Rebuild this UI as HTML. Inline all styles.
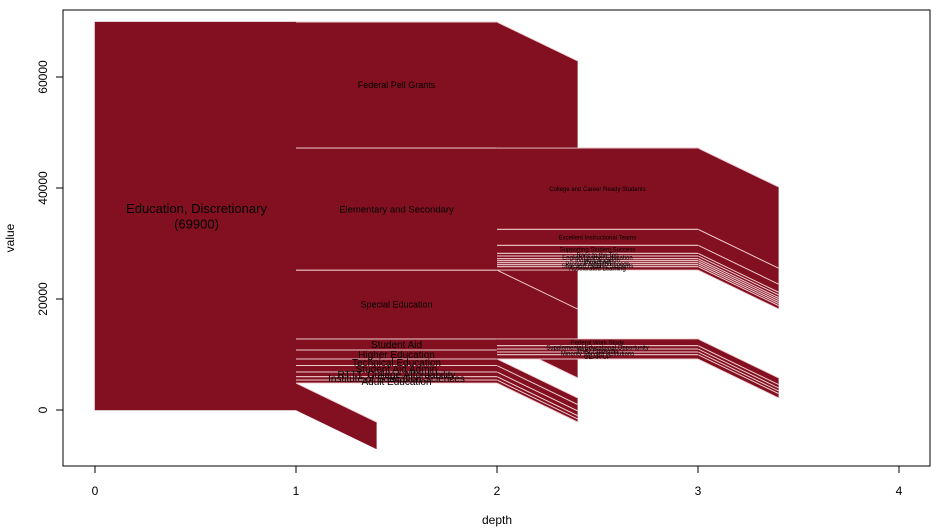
<!DOCTYPE html>
<html><head><meta charset="utf-8"><style>
html,body{margin:0;padding:0;background:#fff;}
svg{display:block;font-family:"Liberation Sans",Arial,sans-serif;}
</style></head><body>
<svg id="chart" width="937" height="531" viewBox="0 0 937 531" xmlns="http://www.w3.org/2000/svg">
<g id="marks"></g>
<g id="labels"></g>
<rect x="63" y="10" width="867" height="456" fill="none" stroke="#000" stroke-width="1"/>
<g id="axes"></g>
<text x="497" y="524" font-size="12" text-anchor="middle">depth</text>
<text x="14" y="238" font-size="12" text-anchor="middle" transform="rotate(-90 14 238)">value</text>
</svg>
<script>
const nodeNames = ["Education, Discretionary\n(69900)","Federal Pell Grants","Elementary and Secondary","Special Education","Student Aid","Higher Education","Technical Education","Student Aid Admin","RTTT: College Affordability","Institute of Education Sciences","Adult Education","College and Career Ready Students","Excellent Instructional Teams","Supporting Student Success","Race to the Top","English Learner Education","Indian Education","Impact Aid","Promise Neighborhoods","Safe and Healthy Students","Accelerated Learning","Federal Work Study","Supplemental Educational Opportunity","TRIO Programs","Minority Serving Institutions","GEAR UP"];
const nodeDepth = [0,1,1,1,1,1,1,1,1,1,1,2,2,2,2,2,2,2,2,2,2,2,2,2,2,2];
const nodeTop =    [69900,69900,47200,25200,12800,10800,9200,8000,6850,6000,5400,47200,32560,29680,28230,27750,27260,26900,26540,26180,25820,12800,11590,10990,10450,9960];
const nodeBottom = [0,47200,25200,12800,10800,9200,8000,6850,6000,5400,4850,32560,29680,28230,27750,27260,26900,26540,26180,25820,25220,11590,10990,10450,9960,9190];
const remLow =  [0,47200,25200,12800,10800,9200,8000,6850,6000,5400,4850,32560,29680,28230,27750,27260,26900,26540,26180,25820,25220,11590,10990,10450,9960,9190];
const remHigh = [4850,69900,47200,25200,10800,9200,9200,8000,6850,6000,5400,47200,32560,29680,28230,27750,27260,26900,26540,26180,25820,12800,11590,10990,10450,9960];
const slopeDrop = 7000;
const xTicks = [0,1,2,3,4];
const yTicks = [0,20000,40000,60000];

const NS="http://www.w3.org/2000/svg";
const X = d => 95 + 201*d;
const Y = v => 410 - v*0.00555;
const marks=document.getElementById('marks'), labels=document.getElementById('labels'), axes=document.getElementById('axes');
const FILL="#821020", STROKE="#f0d0d4";
function el(tag,attrs,parent){const e=document.createElementNS(NS,tag);for(const k in attrs)e.setAttribute(k,attrs[k]);parent.appendChild(e);return e;}

for(let depth=0;depth<=2;depth++){
  nodeNames.forEach((n,i)=>{
    if(nodeDepth[i]!==depth)return;
    if(remHigh[i]>remLow[i]){
      const x1=X(depth+1), x2=X(depth+1.4);
      const w=el('polygon',{points:`${x1},${Y(remHigh[i])} ${x2},${Y(remHigh[i]-slopeDrop)} ${x2},${Y(remLow[i]-slopeDrop)} ${x1},${Y(remLow[i])}`,fill:FILL,stroke:FILL,'stroke-width':0.5},marks);
      
      
      [remHigh[i],remLow[i]].forEach(v=>{
        if(depth===0 && v===0) return;
        const l=el('line',{x1:x1,y1:Y(v),x2:x2,y2:Y(v-slopeDrop),stroke:STROKE,'stroke-width':0.9},marks);
        
        
      });
    }
  });
  nodeNames.forEach((n,i)=>{
    if(nodeDepth[i]!==depth)return;
    const r=el('rect',{x:X(depth),y:Y(nodeTop[i]),width:X(depth+1)-X(depth),height:Y(nodeBottom[i])-Y(nodeTop[i]),fill:FILL,stroke:FILL,'stroke-width':0.5},marks);
    
    
  });
  nodeNames.forEach((n,i)=>{
    if(nodeDepth[i]!==depth||depth===0)return;
    [nodeTop[i],nodeBottom[i]].forEach(v=>{
      const l=el('line',{x1:X(depth),x2:X(depth+1),y1:Y(v),y2:Y(v),stroke:STROKE,'stroke-width':0.9},marks);
      
      
    });
  });
}
const fs=[13,9.5,6];
nodeNames.forEach((n,i)=>{
  const d=nodeDepth[i];
  let size=fs[d];
  if(d===1 && i>=4) size=10;
  if(i===1||i===3) size=9;
  const cx=X(d+0.5), cy=(Y(nodeTop[i])+Y(nodeBottom[i]))/2;
  const lines=n.split('\n');
  lines.forEach((ln,k)=>{
    const t=el('text',{x:d===0?cx+1:cx,y:cy+size*0.35+(k-(lines.length-1)/2)*size*1.2,'font-size':size,'text-anchor':'middle',fill:'#000'},labels);
    
    
    t.textContent=ln;
  });
});
xTicks.forEach(v=>{
  const l=el('line',{x1:X(v),x2:X(v),y1:466,y2:473,stroke:'#000'},axes);
  
  
  const t=el('text',{x:X(v),y:495,'font-size':12,'text-anchor':'middle'},axes);
  
  
  t.textContent=v;
});
yTicks.forEach(v=>{
  const l=el('line',{x1:56,x2:63,y1:Y(v),y2:Y(v),stroke:'#000'},axes);
  
  
  const t=el('text',{x:47,y:Y(v),'font-size':12,'text-anchor':'middle',transform:`rotate(-90 47 ${Y(v)})`},axes);
  
  
  t.textContent=v;
});
</script>
</body></html>
